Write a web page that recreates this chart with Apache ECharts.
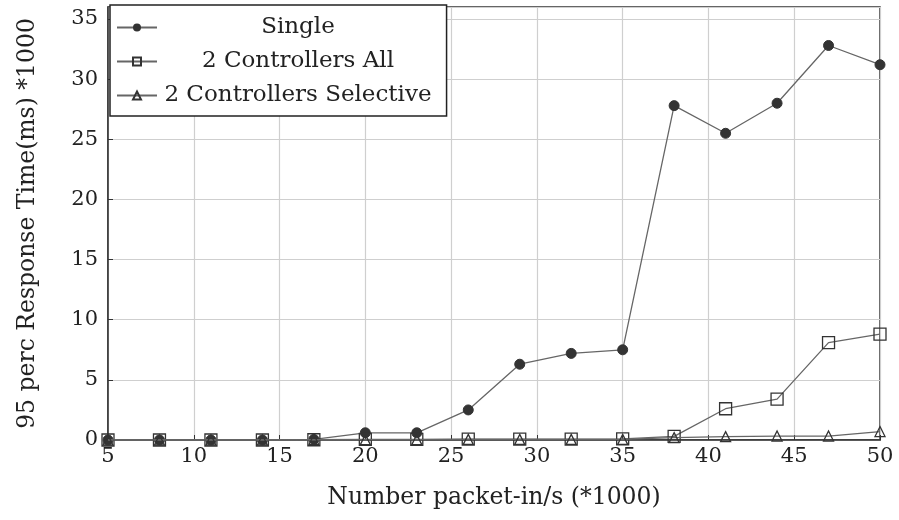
<!DOCTYPE html>
<html>
<head>
<meta charset="utf-8">
<script src="https://cdn.jsdelivr.net/npm/echarts@6/dist/echarts.min.js"></script>
<style>
  html, body { margin: 0; padding: 0; background: #fff; }
  #chart { width: 899px; height: 520px; }
</style>
</head>
<body>
<div id="chart"></div>
<script>
// Packet-in rate (*1000)
const packetRates = [5, 8, 11, 14, 17, 20, 23, 26, 29, 32, 35, 38, 41, 44, 47, 50];
// 95th percentile response time (ms, *1000)
const singleValues    = [0, 0, 0, 0, 0.05, 0.6, 0.6, 2.5, 6.3, 7.2, 7.5, 27.8, 25.5, 28.0, 32.8, 31.2];
const allValues       = [0, 0, 0, 0, 0.02, 0.05, 0.05, 0.08, 0.08, 0.08, 0.1, 0.3, 2.6, 3.4, 8.1, 8.8];
const selectiveValues = [0, 0, 0, 0, 0.02, 0.03, 0.03, 0.05, 0.05, 0.05, 0.05, 0.2, 0.28, 0.33, 0.33, 0.7];
const xTicks = [5, 10, 15, 20, 25, 30, 35, 40, 45, 50];
const yTicks = [0, 5, 10, 15, 20, 25, 30, 35];

const FONT = 'DejaVu Serif';
const pair = (vals) => packetRates.map((x, i) => [x, vals[i]]);

const chart = echarts.init(document.getElementById('chart'), null, { renderer: 'canvas' });

const lineStyle = { color: '#666', width: 1.3 };

chart.setOption({
  animation: false,
  backgroundColor: '#fff',
  grid: {
    left: 108, right: 19, top: 7, bottom: 80,
    show: true, borderColor: '#333', borderWidth: 1.5
  },
  xAxis: {
    type: 'value', min: 5, max: 50, interval: 5,
    name: 'Number packet-in/s (*1000)',
    nameLocation: 'middle', nameGap: 46,
    nameTextStyle: { fontFamily: FONT, fontSize: 23.5, color: '#222' },
    axisLine: { show: true, lineStyle: { color: '#333', width: 1.5 } },
    axisTick: { show: true, inside: true, length: 5, lineStyle: { color: '#333' } },
    axisLabel: {
      fontFamily: FONT, fontSize: 21, color: '#222', margin: 6,
      formatter: (v) => xTicks.includes(v) ? String(v) : ''
    },
    splitLine: { show: true, lineStyle: { color: '#cfcfcf', width: 1.2 } }
  },
  yAxis: {
    type: 'value', min: 0, max: 36, interval: 5,
    name: '95 perc Response Time(ms) *1000',
    nameLocation: 'middle', nameGap: 68,
    nameTextStyle: { fontFamily: FONT, fontSize: 23.5, color: '#222' },
    axisLine: { show: true, lineStyle: { color: '#333', width: 1.5 } },
    axisTick: { show: true, inside: true, length: 5, lineStyle: { color: '#333' } },
    axisLabel: {
      fontFamily: FONT, fontSize: 21, color: '#222', margin: 10,
      showMaxLabel: false,
      formatter: (v) => yTicks.includes(v) ? String(v) : ''
    },
    splitLine: { show: true, lineStyle: { color: '#cfcfcf', width: 1.2 } }
  },
  legend: {
    orient: 'vertical', left: 110, top: 5,
    padding: [11, 15, 9, 6],
    itemGap: 11, itemWidth: 40, itemHeight: 10,
    backgroundColor: '#fff', borderColor: '#222', borderWidth: 1.5, borderRadius: 0,
    textStyle: {
      fontFamily: FONT, fontSize: 23, color: '#222',
      rich: { c: { fontFamily: FONT, fontSize: 23, color: '#222', width: 272, align: 'center' } }
    },
    formatter: (name) => '{c|' + name + '}',
    data: ['Single', '2 Controllers All', '2 Controllers Selective']
  },
  series: [
    {
      name: 'Single', type: 'line', data: pair(singleValues),
      symbol: 'circle', symbolSize: 10,
      itemStyle: { color: '#333', borderColor: '#333' },
      lineStyle: lineStyle, z: 3
    },
    {
      name: '2 Controllers All', type: 'line', data: pair(allValues),
      symbol: 'rect', symbolSize: 12,
      itemStyle: { color: 'rgba(255,255,255,0)', borderColor: '#333', borderWidth: 1.3 },
      lineStyle: lineStyle, z: 4
    },
    {
      name: '2 Controllers Selective', type: 'line', data: pair(selectiveValues),
      symbol: 'triangle', symbolSize: 10,
      itemStyle: { color: 'rgba(255,255,255,0)', borderColor: '#333', borderWidth: 1.3 },
      lineStyle: lineStyle, z: 5
    }
  ]
});
</script>
</body>
</html>
